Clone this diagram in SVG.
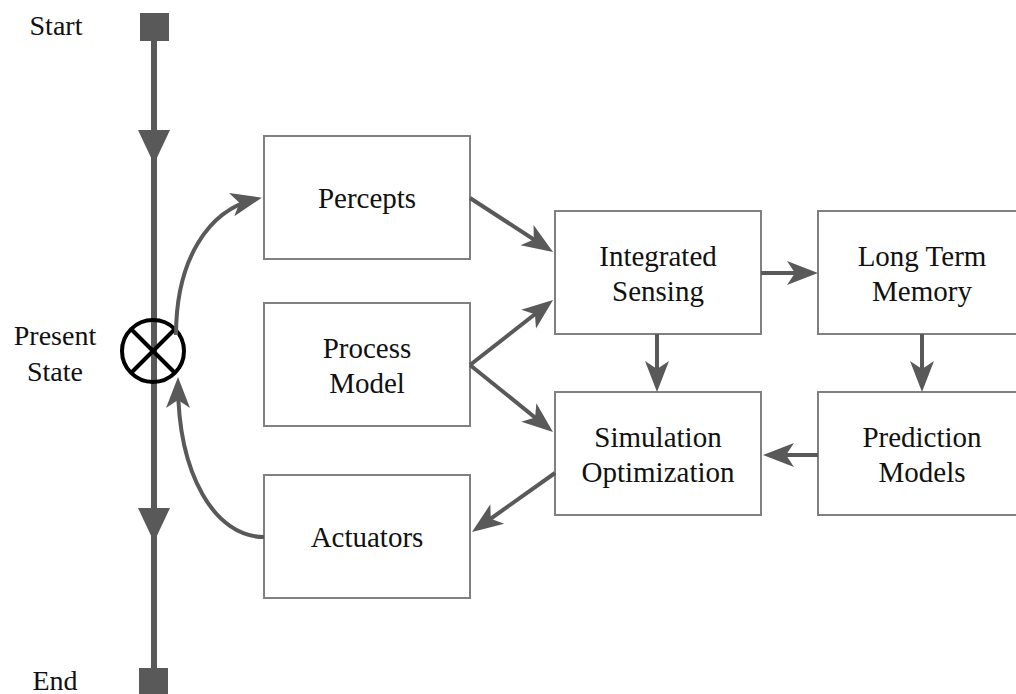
<svg xmlns="http://www.w3.org/2000/svg" width="1016" height="694" viewBox="0 0 1016 694">
<style>
.box{fill:#fff;stroke:#808080;stroke-width:2}
text{font-family:'Times New Roman','Liberation Serif','DejaVu Serif',serif;fill:#111;text-anchor:middle}
.lbl{font-size:29px}
.side{font-size:28px}
.con{fill:none;stroke:#595959;stroke-width:4;marker-end:url(#ah)}
</style>
<defs>
<marker id="ah" markerUnits="userSpaceOnUse" viewBox="-26 -13 34 26" refX="0" refY="0" markerWidth="34" markerHeight="26" orient="auto">
<path d="M6,0 L-25,-12 L-17,0 L-25,12 Z" fill="#595959"/>
</marker>
</defs>
<rect width="1016" height="694" fill="#fff"/>
<g id="timeline">
<line x1="154" y1="30" x2="154" y2="680" stroke="#595959" stroke-width="6"/>
<rect x="140" y="13" width="29" height="28" fill="#595959"/>
<rect x="139" y="668" width="29" height="28" fill="#595959"/>
<path d="M138,130 L170,130 L154,164 Z" fill="#595959"/>
<path d="M138,508 L170,508 L154,542 Z" fill="#595959"/>
<text class="side" x="56" y="35">Start</text>
<text class="side" x="55" y="690">End</text>
</g>
<g id="present-state">
<circle cx="153" cy="351" r="31" fill="none" stroke="#000" stroke-width="4"/>
<line x1="131" y1="329" x2="175" y2="373" stroke="#000" stroke-width="4"/>
<line x1="175" y1="329" x2="131" y2="373" stroke="#000" stroke-width="4"/>
<text class="side" x="55" y="345">Present</text>
<text class="side" x="55" y="381">State</text>
</g>
<g id="percepts">
<rect class="box" x="264" y="136" width="206" height="123"/>
<text class="lbl" x="367" y="208">Percepts</text>
</g>
<g id="process-model">
<rect class="box" x="264" y="303" width="206" height="123"/>
<text class="lbl" x="367" y="358">Process</text>
<text class="lbl" x="367" y="393">Model</text>
</g>
<g id="actuators">
<rect class="box" x="264" y="475" width="206" height="123"/>
<text class="lbl" x="367" y="547">Actuators</text>
</g>
<g id="integrated-sensing">
<rect class="box" x="555" y="211" width="206" height="123"/>
<text class="lbl" x="658" y="266">Integrated</text>
<text class="lbl" x="658" y="301">Sensing</text>
</g>
<g id="simulation-optimization">
<rect class="box" x="555" y="392" width="206" height="123"/>
<text class="lbl" x="658" y="447">Simulation</text>
<text class="lbl" x="658" y="482">Optimization</text>
</g>
<g id="long-term-memory">
<rect class="box" x="818" y="211" width="206" height="123"/>
<text class="lbl" x="922" y="266">Long Term</text>
<text class="lbl" x="922" y="301">Memory</text>
</g>
<g id="prediction-models">
<rect class="box" x="818" y="392" width="206" height="123"/>
<text class="lbl" x="922" y="447">Prediction</text>
<text class="lbl" x="922" y="482">Models</text>
</g>
<g id="connectors">
<path class="con" d="M470,198 L548,248.7"/>
<path class="con" d="M470,365 L548.3,303.7"/>
<path class="con" d="M470,365 L548.3,428.2"/>
<path class="con" d="M657,334 L657,386"/>
<path class="con" d="M761,273 L812,273"/>
<path class="con" d="M922,334 L922,386"/>
<path class="con" d="M818,455 L769,455"/>
<path class="con" d="M555,473 L476.9,528.5"/>
<path class="con" d="M176,335 C176,260 208,210 256,199"/>
<path class="con" d="M264,537 C215,537 178,475 178,383"/>
</g>
</svg>
